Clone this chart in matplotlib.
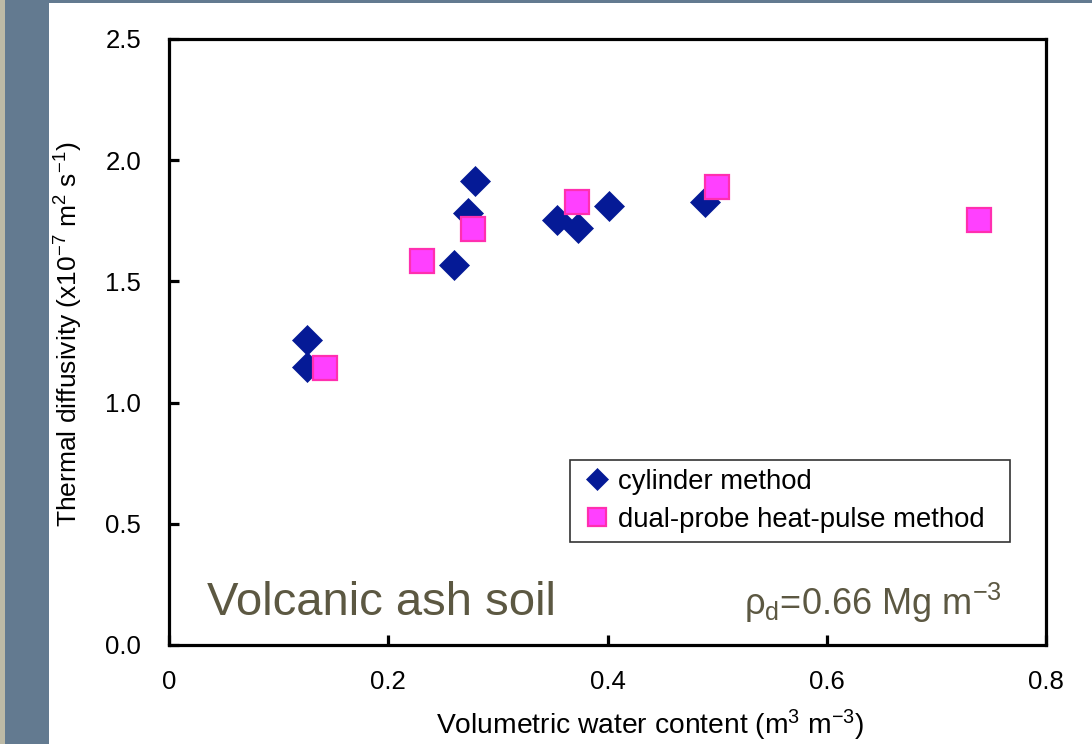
import matplotlib
matplotlib.use("Agg")
import matplotlib.pyplot as plt
from matplotlib.patches import Rectangle

plt.rcParams['font.family'] = ['Liberation Sans', 'DejaVu Sans']
plt.rcParams['mathtext.fontset'] = 'custom'
plt.rcParams['mathtext.rm'] = 'Liberation Sans'
plt.rcParams['mathtext.it'] = 'Liberation Sans:italic'
plt.rcParams['mathtext.bf'] = 'Liberation Sans:bold'

# Data
cyl_x = [0.126, 0.126, 0.260, 0.273, 0.279, 0.354, 0.373, 0.401, 0.489]
cyl_y = [1.258, 1.148, 1.568, 1.781, 1.914, 1.753, 1.719, 1.811, 1.829]
dp_x = [0.142, 0.231, 0.277, 0.372, 0.500, 0.739]
dp_y = [1.144, 1.585, 1.717, 1.829, 1.888, 1.753]
x_ticks = [0, 0.2, 0.4, 0.6, 0.8]
x_ticklabels = ['0', '0.2', '0.4', '0.6', '0.8']
y_ticks = [0.0, 0.5, 1.0, 1.5, 2.0, 2.5]
y_ticklabels = ['0.0', '0.5', '1.0', '1.5', '2.0', '2.5']

W, H = 1092, 744
fig = plt.figure(figsize=(W / 100, H / 100), dpi=100)
fig.patch.set_facecolor('white')

# slide background strips
fig.patches.append(Rectangle((0, 0), 49 / W, 1, transform=fig.transFigure,
                             facecolor='#637a90', edgecolor='none', zorder=-10))
fig.patches.append(Rectangle((0, 0), 5 / W, 1, transform=fig.transFigure,
                             facecolor='#bdbaa6', edgecolor='none', zorder=-9))
fig.patches.append(Rectangle((0, 1 - 3 / H), 1, 3 / H, transform=fig.transFigure,
                             facecolor='#637a90', edgecolor='none', zorder=-10))

ax = fig.add_axes([169 / W, 1 - 645 / H, (1046 - 169) / W, (645 - 39) / H])
ax.set_xlim(0, 0.8)
ax.set_ylim(0, 2.5)

ax.plot(cyl_x, cyl_y, linestyle='none', marker='D', markersize=15.5,
        markerfacecolor='#051a96', markeredgecolor='#051a96', markeredgewidth=0.5,
        label='cylinder method', zorder=3)
ax.plot(dp_x, dp_y, linestyle='none', marker='s', markersize=17,
        markerfacecolor='#ff40ff', markeredgecolor='#ff2fb0', markeredgewidth=1.6,
        label='dual-probe heat-pulse method', zorder=4)

for s in ax.spines.values():
    s.set_linewidth(2.3)
    s.set_color('black')

ax.set_xticks(x_ticks)
ax.set_xticklabels(x_ticklabels)
ax.set_yticks(y_ticks)
ax.set_yticklabels(y_ticklabels)
ax.tick_params(axis='both', direction='in', length=7, width=2.3, labelsize=18.5,
               top=False, right=False)
ax.tick_params(axis='y', pad=20)
ax.tick_params(axis='x', pad=18)

ax.set_xlabel(r'Volumetric water content (m$^{\mathregular{3}}$ m$^{\mathregular{-3}}$)', fontsize=20.3)
ax.xaxis.set_label_coords((650 - 169) / 877, -0.104)
ax.set_ylabel(r'Thermal diffusivity (x10$^{\mathregular{-7}}$ m$^{\mathregular{2}}$ s$^{\mathregular{-1}}$)', fontsize=19)
ax.yaxis.set_label_coords(-0.096, 0.512)

lx0 = (570 - 169) / 877
lx1 = (1010 - 169) / 877
ly1 = (645 - 460) / 606
ly0 = (645 - 545) / 606
leg = ax.legend(loc='upper left', bbox_to_anchor=(lx0, ly0, lx1 - lx0, ly1 - ly0),
                mode='expand', fontsize=19.8, frameon=True, fancybox=False, shadow=False,
                borderpad=0.33, handletextpad=0.1, handlelength=1.3,
                labelspacing=0.42, borderaxespad=0, markerscale=0.75)
leg.get_frame().set_edgecolor('black')
leg.get_frame().set_linewidth(1.2)

ax.text((207 - 169) / 877, (645 - 615) / 606, 'Volcanic ash soil', transform=ax.transAxes,
        fontsize=34, color='#5c5842', ha='left', va='baseline')
ax.text((1002 - 169) / 877, (645 - 615) / 606,
        r'ρ$_{\mathregular{d}}$=0.66 Mg m$^{\mathregular{-3}}$', transform=ax.transAxes,
        fontsize=26, color='#5c5842', ha='right', va='baseline')

fig.savefig('out.png', dpi=100)
